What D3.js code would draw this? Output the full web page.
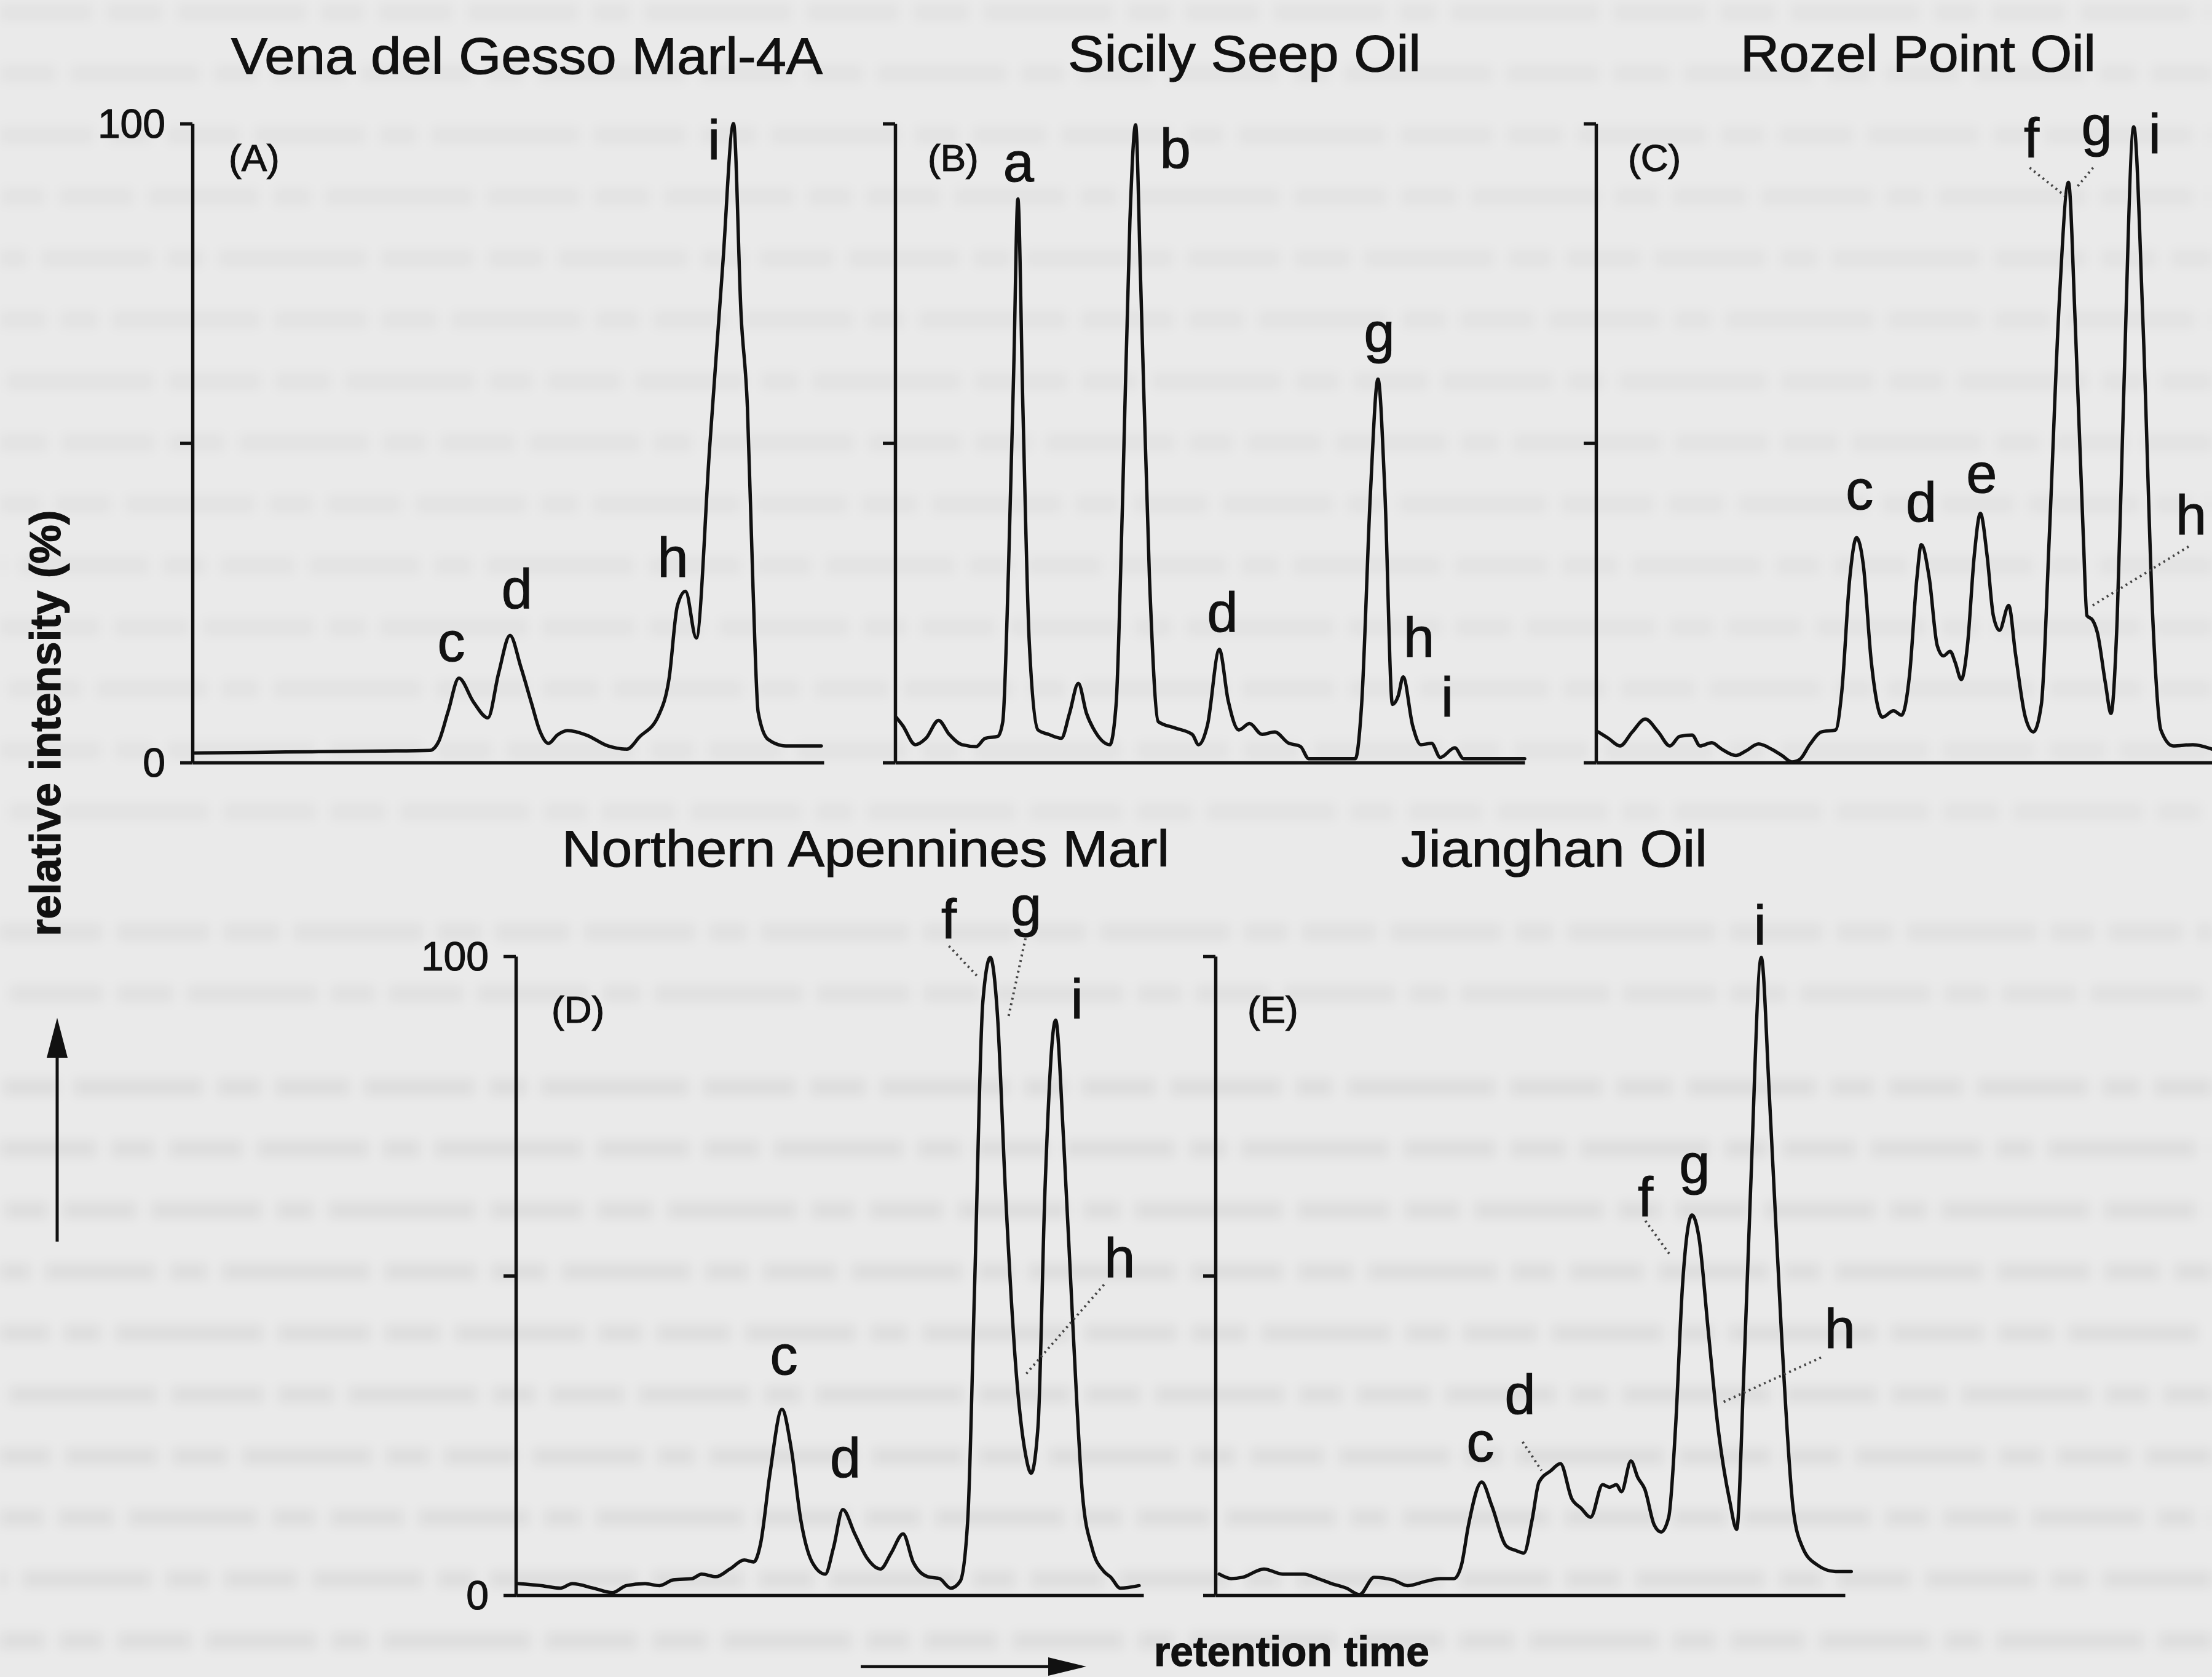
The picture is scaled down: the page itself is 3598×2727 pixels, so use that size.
<!DOCTYPE html>
<html>
<head>
<meta charset="utf-8">
<script src="https://cdn.jsdelivr.net/npm/d3@7"></script>
<style>
  html, body { margin: 0; padding: 0; background: #eaeaea; }
  svg { display: block; }
  text { font-family: "Liberation Sans", Arial, Helvetica, sans-serif; fill: #111; stroke: #111; stroke-width: 1.2px; }
</style>
</head>
<body>
<svg id="fig" width="3598" height="2727"></svg>
<script>
// Chromatogram traces: [retention time (0-100 of panel span), relative intensity %]
const traceA = [
  [0.4,1.5],[10,1.6],[20,1.7],[30,1.8],[37.6,1.9],[39,3.3],[40.5,8],[42.2,13.2],[44.5,9.5],[46.8,7.0],
  [48.5,14],[50.3,19.9],[52,15],[53.7,9.3],[55,5],[56.4,3.0],[57.8,4.3],[59.4,5.0],[62.4,4.3],[65.8,2.6],
  [68.8,2.1],[70.8,4.0],[73.8,7.3],[75.5,13.2],[76.8,24.5],[78.1,26.8],[79.8,19.5],[81.9,49],[84,78],
  [85.7,100],[86.9,70],[87.9,55.6],[88.8,27],[89.6,7.9],[91.2,3.6],[94,2.6],[99.6,2.6]
];
const traceB = [
  [0.15,7.1],[1.2,5.8],[3.2,2.8],[4.9,3.8],[6.9,6.6],[8.6,4.4],[10.6,2.8],[12.9,2.5],[14.3,3.8],[16.3,4.1],
  [17.1,6.4],[18.0,30],[18.85,62],[19.5,88.2],[20.3,55.4],[21.3,19],[22.7,5.1],[24.4,4.4],[26.4,3.8],
  [27.7,7.7],[29.1,12.4],[30.4,7.7],[31.8,4.8],[34.1,2.8],[35.1,9.1],[36.1,40],[37.3,85],[38.2,99.8],
  [39.0,75.3],[40.4,28.9],[41.8,6.4],[44.5,5.4],[47.2,4.4],[48.2,2.8],[49.6,5.8],[51.5,17.7],[52.9,9.7],
  [54.6,5.1],[56.3,6.1],[58.3,4.4],[60.3,4.8],[62.4,3.1],[64.4,2.5],[65.7,0.6],[73.1,0.6],[74.1,9.1],
  [75.5,42.2],[76.7,60],[77.8,42.2],[79.0,9.1],[79.9,10.4],[80.7,13.4],[82.2,5.8],[83.5,2.8],[85.2,3.0],
  [86.6,0.8],[88.9,2.3],[90.3,0.6],[100,0.6]
];
const traceC = [
  [0.35,4.8],[2.0,3.8],[3.9,2.6],[5.9,4.8],[8.0,6.8],[10.1,4.8],[12.0,2.6],[13.6,4.1],[15.6,4.3],[16.9,2.6],
  [18.8,3.1],[20.4,2.1],[22.7,1.1],[24.3,1.8],[26.4,2.9],[28.5,2.1],[30.2,1.1],[31.8,0.1],[33.1,0.5],
  [34.7,2.8],[36.6,4.8],[38.9,5.1],[39.9,11.1],[41.2,28.9],[42.3,35.2],[43.4,30.9],[44.7,15.7],[46.5,7.1],
  [48.3,8.1],[49.6,7.4],[50.9,13.7],[52.1,28.9],[52.8,34.1],[54.1,28.9],[55.4,18.3],[56.4,16.7],[57.5,17.4],
  [58.3,15.7],[59.3,13.0],[60.3,18.3],[61.4,32.3],[62.4,39],[63.5,32.3],[64.5,23.0],[65.5,20.7],[67.0,24.6],
  [68.1,17.0],[69.7,7.1],[71.0,4.8],[72.3,9.1],[73.6,35.6],[75.2,72],[76.7,90.8],[77.8,68.7],[79.1,35.6],
  [79.7,23.0],[80.6,22.3],[81.4,20.3],[82.7,12.4],[83.6,7.7],[84.6,22.3],[85.6,55.4],[87.3,99.5],[88.8,68.7],
  [90.4,22.3],[91.7,5.1],[93.7,2.6],[96.9,2.8],[100,2.1]
];
const traceD = [
  [0.4,1.8],[4.1,1.5],[7.1,1.1],[9.0,1.8],[12.4,1.1],[15.4,0.4],[17.6,1.5],[20.6,1.8],[22.9,1.5],[25.1,2.4],
  [28.1,2.6],[29.6,3.3],[31.9,2.9],[34.1,4.1],[36.4,5.5],[37.9,5.2],[39.0,8.1],[40.5,19.1],[42.4,29.1],
  [43.9,22.8],[45.4,11.8],[47.2,5.2],[49.3,3.3],[50.6,7.4],[52.1,13.4],[54.0,9.6],[55.9,5.9],[58.1,4.1],
  [59.8,6.6],[61.7,9.6],[63.3,5.2],[65.6,2.9],[67.5,2.6],[69.3,1.1],[70.8,2.2],[72.0,11.8],[73.1,48.6],
  [74.4,92.8],[75.6,99.8],[76.7,91.3],[78.0,63.3],[79.8,33.9],[81.2,22.1],[82.1,19.1],[83.2,26.5],
  [84.3,63.3],[86.0,90],[87.3,70.7],[88.8,41.2],[90.3,15.5],[91.8,7.4],[93.7,3.7],[94.8,2.8],[96.3,1.1],
  [99.3,1.5]
];
const traceE = [
  [0.6,3.3],[2.5,2.6],[4.3,2.8],[7.7,4.1],[10.7,3.3],[14.0,3.3],[16.3,2.6],[18.5,1.8],[20.8,1.1],[22.9,0.1],
  [25.2,2.8],[28.2,2.4],[30.5,1.5],[33.5,2.2],[35.7,2.6],[37.9,2.6],[39.1,4.8],[40.2,11.0],[42.3,17.7],
  [43.9,14.0],[46.2,7.7],[47.7,7.0],[49.0,6.6],[50.3,11.8],[51.4,17.7],[53.3,19.5],[54.8,20.6],[56.6,15.1],
  [58.1,13.6],[59.6,12.2],[61.5,17.3],[62.6,16.9],[63.7,17.3],[64.5,16.2],[66.0,21],[67.1,18.4],[68.2,16.6],
  [69.7,11.0],[70.8,9.9],[72.0,12.2],[73.1,26.5],[74.2,48.6],[75.7,59.5],[76.8,56],[78.3,41.2],[79.8,26.5],
  [81.7,14.7],[82.8,10.3],[83.9,33.9],[85.0,63.3],[86.7,99.8],[88.0,78],[89.9,41.2],[91.8,13.3],[93.3,7.4],
  [95.5,4.8],[98.5,3.7],[101,3.7]
];

// Peak letters: [label, time, intensity at text baseline]
const peaksA = [["c",41.0,15.9],["d",51.4,24.2],["h",76.1,29.1],["i",82.6,94.4]];
const peaksB = [["a",19.6,91.0],["b",44.5,93.1],["d",52.0,20.5],["g",76.9,64.3],["h",83.2,16.6],["i",87.7,7.2]];
const peaksC = [["c",42.8,39.7],["d",52.8,37.7],["e",62.6,42.3],["f",70.7,94.7],["g",81.3,96.6],["i",90.7,95.4],["h",96.6,35.7]];
const peaksD = [["c",42.7,34.6],["d",52.5,18.5],["f",69.0,102.8],["g",81.3,104.8],["i",89.4,90.3],["h",96.2,49.8]];
const peaksE = [["c",42.1,21.0],["d",48.4,28.4],["f",68.3,59.3],["g",76.1,64.5],["i",86.5,101.8],["h",99.2,38.7]];

// Dotted leaders from a letter to its peak: [t1, v1, t2, v2]
const leadersC = [[70.4,93.1,76.1,88.7],[80.7,93.1,78.1,90.1],[96.2,33.8,80.3,24.4]];
const leadersD = [[69.0,101.6,73.5,96.9],[81.2,102.8,78.5,90.6],[93.7,48.6,81.0,34.3]];
const leadersE = [[68.3,58.6,72.4,53.0],[96.2,37.2,80.6,30.2],[48.8,24.0,51.8,19.5]];

const titles = ["Vena del Gesso Marl-4A","Sicily Seep Oil","Rozel Point Oil","Northern Apennines Marl","Jianghan Oil"];
const panelTags = ["(A)","(B)","(C)","(D)","(E)"];
const yTicks = [0, 50, 100];
const yTickLabels = {0: "0", 50: "", 100: "100"};

// Layout of the five panels (pixels)
const panels = [
  {trace: traceA, peaks: peaksA, leaders: [], x0: 313, x1: 1340, top: 201, base: 1240, labels: true,
   titleX: 376, titleY: 120, titleLen: 962, tagDx: 59, tagDy: 77},
  {trace: traceB, peaks: peaksB, leaders: [], x0: 1456, x1: 2480, top: 201, base: 1240, labels: false,
   titleX: 1737, titleY: 116, titleLen: 574, tagDx: 53, tagDy: 77},
  {trace: traceC, peaks: peaksC, leaders: leadersC, x0: 2596, x1: 3598, top: 201, base: 1240, labels: false,
   titleX: 2831, titleY: 116, titleLen: 578, tagDx: 52, tagDy: 77},
  {trace: traceD, peaks: peaksD, leaders: leadersD, x0: 839, x1: 1860, top: 1555, base: 2594, labels: true,
   titleX: 914, titleY: 1409, titleLen: 988, tagDx: 58, tagDy: 108},
  {trace: traceE, peaks: peaksE, leaders: leadersE, x0: 1977, x1: 3001, top: 1555, base: 2594, labels: false,
   titleX: 2279, titleY: 1409, titleLen: 498, tagDx: 52, tagDy: 108}
];

const svg = d3.select("#fig");
svg.append("rect").attr("width", 3598).attr("height", 2727).attr("fill", "#eaeaea");

// faint show-through of print from the reverse of the sheet
const defs = svg.append("defs");
defs.append("filter").attr("id", "soft").attr("filterUnits", "userSpaceOnUse")
  .attr("x", 0).attr("y", 0).attr("width", 3598).attr("height", 2727)
  .append("feGaussianBlur").attr("stdDeviation", 9);
const ghostRows = d3.range(20, 1420, 100).map(yy => ({y: yy, o: 0.03}))
  .concat(d3.range(1516, 1700, 100).map(yy => ({y: yy, o: 0.045})))
  .concat(d3.range(1768, 2727, 100).map(yy => ({y: yy, o: 0.055})));
svg.append("g").attr("filter", "url(#soft)").selectAll("line").data(ghostRows).join("line")
  .attr("x1", 0).attr("x2", 3598).attr("y1", d => d.y).attr("y2", d => d.y)
  .attr("stroke", "#000").attr("stroke-opacity", d => d.o).attr("stroke-width", 26)
  .attr("stroke-dasharray", "150,24,90,24,210,24,70,24,120,24,180,24,60,24,240,24")
  .attr("stroke-dashoffset", (d, k) => (k * 173) % 1300);

const INK = "#111";

panels.forEach((p, i) => {
  const x = d3.scaleLinear().domain([0, 100]).range([p.x0, p.x1]);
  const y = d3.scaleLinear().domain([0, 100]).range([p.base, p.top]);
  const g = svg.append("g");

  // retention-time baseline
  const xAxis = d3.axisBottom(x).tickValues([]).tickSizeOuter(0);
  const gx = g.append("g").attr("transform", `translate(0,${p.base})`).call(xAxis);
  gx.select(".domain").attr("stroke", INK).attr("stroke-width", 5.5);

  // intensity axis with ticks at 0, 50, 100
  const yAxis = d3.axisLeft(y).tickValues(yTicks).tickSize(20).tickSizeOuter(0).tickPadding(24)
    .tickFormat(d => p.labels ? yTickLabels[d] : "");
  const gy = g.append("g").attr("transform", `translate(${p.x0},0)`).call(yAxis);
  gy.select(".domain").attr("stroke", INK).attr("stroke-width", 5.5);
  gy.selectAll(".tick line").attr("stroke", INK).attr("stroke-width", 5.5);
  gy.selectAll(".tick text").attr("font-size", 66).attr("fill", INK).attr("stroke", INK).attr("stroke-width", 1.5)
    .attr("font-family", "Liberation Sans, Arial, sans-serif").attr("dy", "0.34em");

  // trace
  const line = d3.line().x(d => x(d[0])).y(d => y(d[1])).curve(d3.curveMonotoneX);
  g.append("path").datum(p.trace).attr("d", line)
    .attr("fill", "none").attr("stroke", INK).attr("stroke-width", 5.5)
    .attr("stroke-linejoin", "round").attr("stroke-linecap", "round");

  // dotted leaders
  g.selectAll(".leader").data(p.leaders).join("line").attr("class", "leader")
    .attr("x1", d => x(d[0])).attr("y1", d => y(d[1]))
    .attr("x2", d => x(d[2])).attr("y2", d => y(d[3]))
    .attr("stroke", "#444").attr("stroke-width", 4).attr("stroke-dasharray", "3,6");

  // peak letters
  g.selectAll(".peak").data(p.peaks).join("text").attr("class", "peak")
    .attr("x", d => x(d[1])).attr("y", d => y(d[2]))
    .attr("text-anchor", "middle").attr("font-size", 90).text(d => d[0]);

  // panel tag
  g.append("text").attr("x", p.x0 + p.tagDx).attr("y", p.top + p.tagDy)
    .attr("font-size", 62).text(panelTags[i]);

  // title
  g.append("text").attr("x", p.titleX).attr("y", p.titleY)
    .attr("font-size", 84).attr("textLength", p.titleLen).attr("lengthAdjust", "spacingAndGlyphs")
    .text(titles[i]);
});

// shared axis captions with direction arrows
svg.append("text")
  .attr("transform", "translate(98,1176) rotate(-90)")
  .attr("text-anchor", "middle").attr("font-size", 70).attr("font-weight", "bold")
  .attr("textLength", 693).attr("lengthAdjust", "spacingAndGlyphs")
  .text("relative intensity (%)");

svg.append("line").attr("x1", 93).attr("y1", 2019).attr("x2", 93).attr("y2", 1700)
  .attr("stroke", INK).attr("stroke-width", 5);
svg.append("path").attr("d", "M93,1655 L110,1720 L76,1720 Z").attr("fill", INK);

svg.append("line").attr("x1", 1400).attr("y1", 2710).attr("x2", 1730).attr("y2", 2710)
  .attr("stroke", INK).attr("stroke-width", 4.5);
svg.append("path").attr("d", "M1767,2710 L1705,2695 L1705,2725 Z").attr("fill", INK);

svg.append("text").attr("x", 1877).attr("y", 2709)
  .attr("font-size", 68).attr("font-weight", "bold")
  .attr("textLength", 448).attr("lengthAdjust", "spacingAndGlyphs")
  .text("retention time");
</script>
</body>
</html>
